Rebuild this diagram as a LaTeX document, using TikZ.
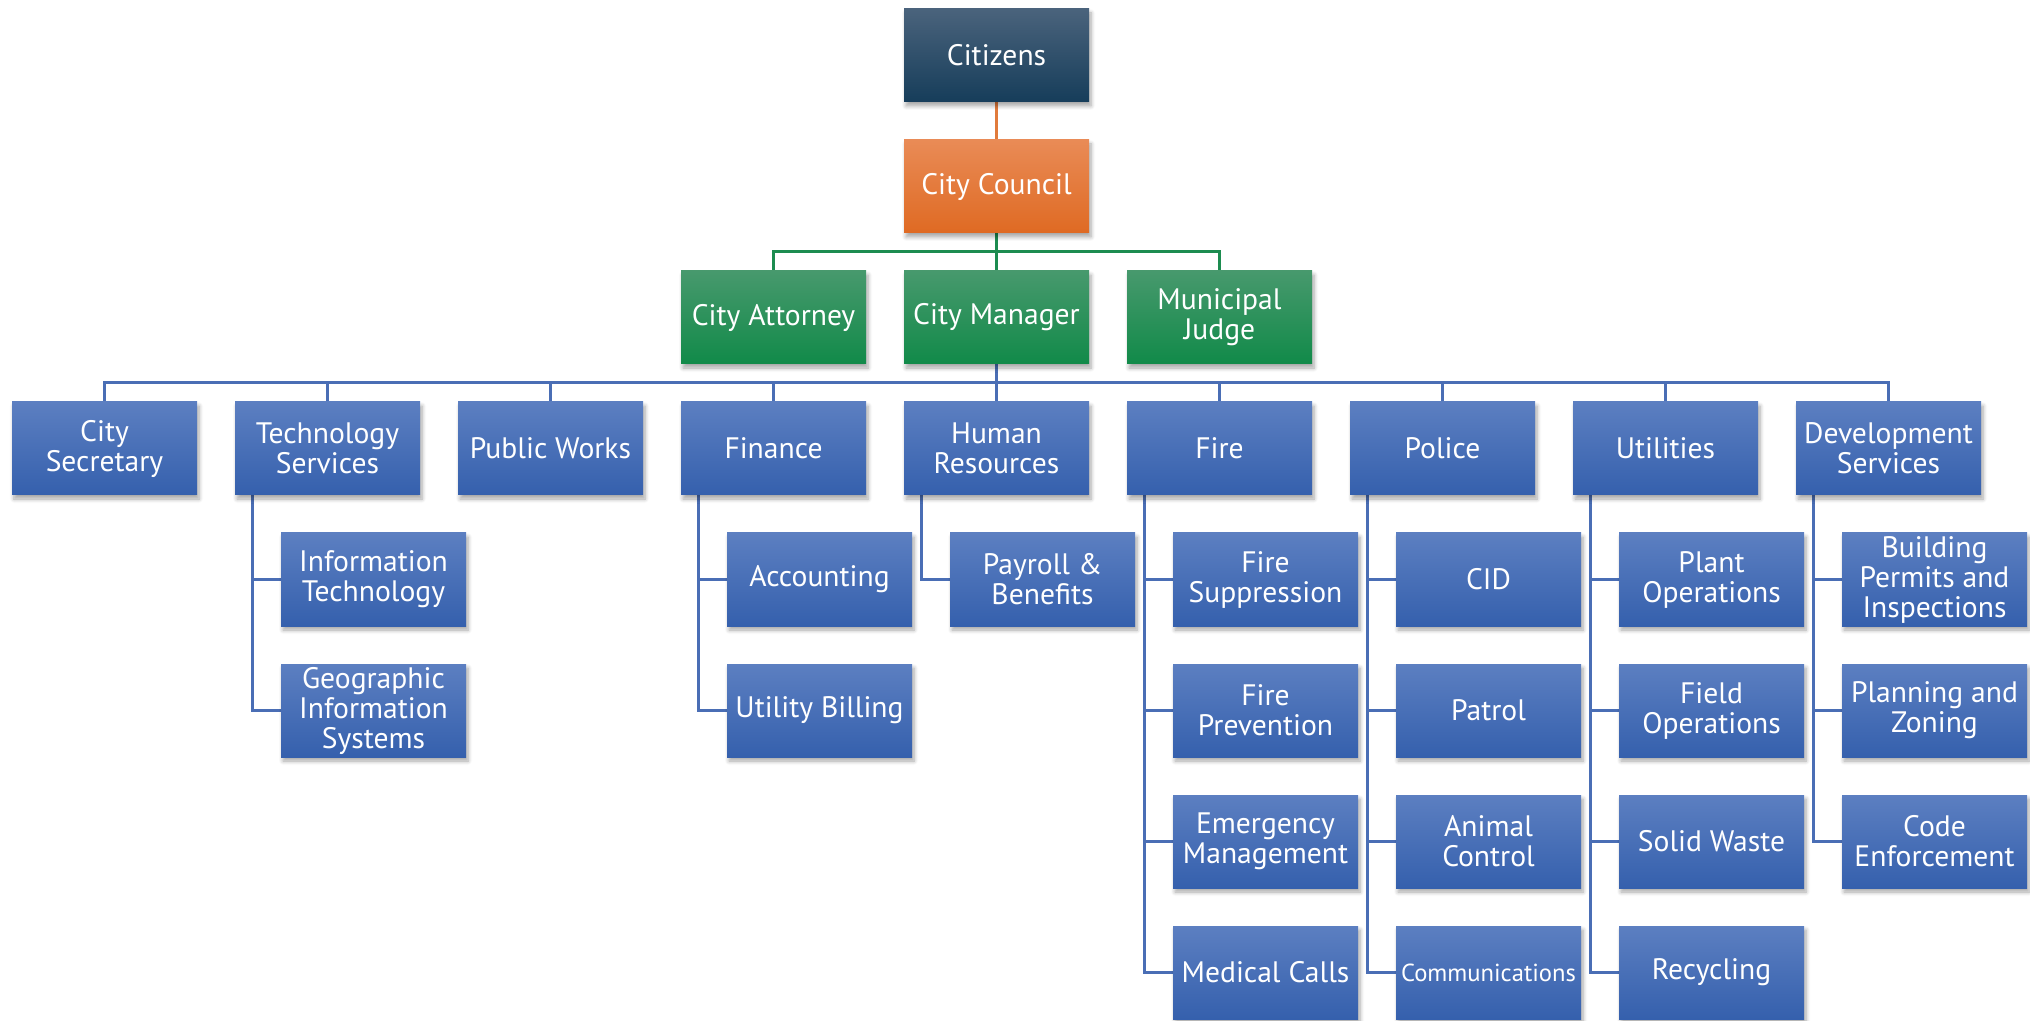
\documentclass[tikz,border=0pt]{standalone}
\usepackage{fontspec}
\setmainfont{PT Sans}
\usetikzlibrary{shadows.blur,backgrounds,calc}
\definecolor{navyT}{HTML}{4A637C}
\definecolor{navyB}{HTML}{163D5A}
\definecolor{orT}{HTML}{E98B56}
\definecolor{orB}{HTML}{DF6A23}
\definecolor{grT}{HTML}{47996D}
\definecolor{grB}{HTML}{118A49}
\definecolor{blT}{HTML}{5C7FC1}
\definecolor{blB}{HTML}{3560AD}
\definecolor{blLine}{HTML}{4A6EB5}
\definecolor{grLine}{HTML}{1D8C50}
\definecolor{orLine}{HTML}{E17B3C}
\tikzset{
  box/.style={minimum width=92.5pt, minimum height=46.5pt, inner sep=0pt, align=center,
    text=white, font=\fontsize{14.8}{15}\selectfont, shading=axis,
    blur shadow={shadow xshift=1pt, shadow yshift=-2pt, shadow blur steps=6, shadow opacity=35}},
  navybox/.style={box, top color=navyT, bottom color=navyB},
  orbox/.style={box, top color=orT, bottom color=orB},
  grbox/.style={box, top color=grT, bottom color=grB},
  blbox/.style={box, top color=blT, bottom color=blB},
  bl/.style={draw=blLine, line width=1.5pt},
  gr/.style={draw=grLine, line width=1.5pt},
  orl/.style={draw=orLine, line width=1.5pt},
}
\begin{document}
\begin{tikzpicture}[x=0.5pt,y=-0.5pt]
\useasboundingbox (0,0) rectangle (2030,1021);
% top
\node[navybox] (cit) at (996.5,55.5) {Citizens};
\node[orbox] (cc) at (996.5,186.5) {City Council};
\node[grbox] (ca) at (773.5,317.5) {City Attorney};
\node[grbox] (cm) at (996.5,317.5) {City Manager};
\node[grbox] (mj) at (1219.5,317.5) {Municipal\\Judge};
% departments
\node[blbox] (sec) at (104.5,448.5) {City\\Secretary};
\node[blbox] (tech) at (327.5,448.5) {Technology\\Services};
\node[blbox] (pw) at (550.5,448.5) {Public Works};
\node[blbox] (fin) at (773.5,448.5) {Finance};
\node[blbox] (hr) at (996.5,448.5) {Human\\Resources};
\node[blbox] (fire) at (1219.5,448.5) {Fire};
\node[blbox] (pol) at (1442.5,448.5) {Police};
\node[blbox] (util) at (1665.5,448.5) {Utilities};
\node[blbox] (dev) at (1888.5,448.5) {Development\\Services};
% sub units
\node[blbox] (it) at (373.5,579.5) {Information\\Technology};
\node[blbox] (gis) at (373.5,710.5) {Geographic\\Information\\Systems};
\node[blbox] (acc) at (819.5,579.5) {Accounting};
\node[blbox] (ub) at (819.5,710.5) {Utility Billing};
\node[blbox] (pay) at (1042.5,579.5) {Payroll \&\\Benefits};
\node[blbox] (fs) at (1265.5,579.5) {Fire\\Suppression};
\node[blbox] (fp) at (1265.5,710.5) {Fire\\Prevention};
\node[blbox] (em) at (1265.5,841.5) {Emergency\\Management};
\node[blbox] (mc) at (1265.5,972.5) {Medical Calls};
\node[blbox] (cid) at (1488.5,579.5) {CID};
\node[blbox] (pat) at (1488.5,710.5) {Patrol};
\node[blbox] (ac) at (1488.5,841.5) {Animal\\Control};
\node[blbox, font=\fontsize{12.3}{14}\selectfont] (com) at (1488.5,972.5) {Communications};
\node[blbox] (po) at (1711.5,579.5) {Plant\\Operations};
\node[blbox] (fo) at (1711.5,710.5) {Field\\Operations};
\node[blbox] (sw) at (1711.5,841.5) {Solid Waste};
\node[blbox] (rec) at (1711.5,972.5) {Recycling};
\node[blbox] (bpi) at (1934.5,579.5) {Building\\Permits and\\Inspections};
\node[blbox] (pz) at (1934.5,710.5) {Planning and\\Zoning};
\node[blbox] (ce) at (1934.5,841.5) {Code\\Enforcement};
\begin{pgfonlayer}{background}
\coordinate (gbus) at (996.5,252);
\coordinate (bbus) at (996.5,383);
\draw[orl] (cit.south) -- (cc.north);
\foreach \n in {ca,cm,mj} \draw[gr] (cc.south) -- (cc.south |- gbus) -| (\n.north);
\foreach \n in {sec,tech,pw,fin,hr,fire,pol,util,dev} \draw[bl] (cm.south) -- (bbus) -| (\n.north);
\foreach \p/\c in {tech/it,tech/gis,fin/acc,fin/ub,hr/pay,fire/fs,fire/fp,fire/em,fire/mc,pol/cid,pol/pat,pol/ac,pol/com,util/po,util/fo,util/sw,util/rec,dev/bpi,dev/pz,dev/ce}
  \draw[bl] ($(\p.south west)+(18,0)$) |- (\c.west);
\end{pgfonlayer}
\end{tikzpicture}
\end{document}
